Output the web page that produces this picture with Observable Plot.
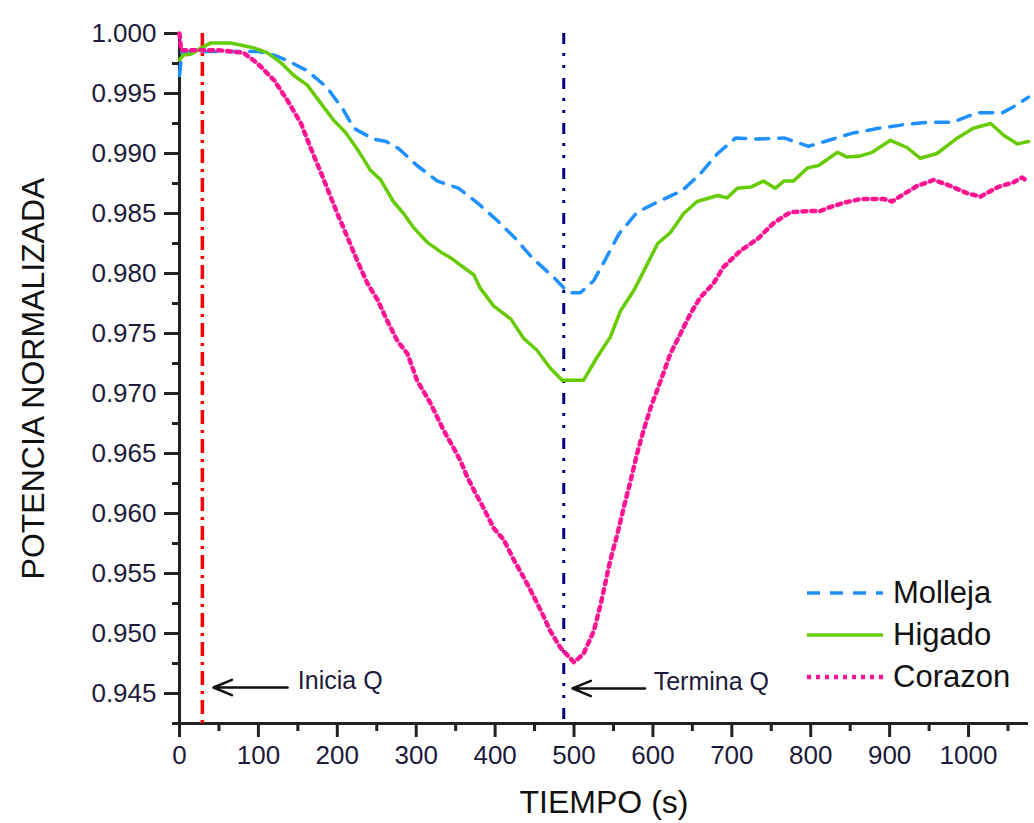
<!DOCTYPE html>
<html>
<head>
<meta charset="utf-8">
<script src="https://cdn.jsdelivr.net/npm/d3@7"></script>
<script src="https://cdn.jsdelivr.net/npm/@observablehq/plot@0.6"></script>
<style>
  html, body { margin: 0; padding: 0; background: #fff; }
  #wrap { position: relative; width: 1034px; height: 823px; font-family: "Liberation Sans", Arial, sans-serif; }
  #legend { position: absolute; left: 805px; top: 572px; }
  .row { display: flex; align-items: center; height: 42px; }
  .row span { font-size: 31px; color: #111; margin-left: 8px; }
</style>
</head>
<body>
<div id="wrap"><div id="chart"></div><div id="legend"></div></div>
<script>
// ---- data ----
const seriesNames = ["Molleja", "Higado", "Corazon"];
const seriesColors = ["#1e90ff", "#66cc00", "#ff1493"];

const mollejaT = [0,3,50,100,120,138,162,187,208,221,246,262,278,301,327,354,379,403,426,447,474,487,495,508,525,540,557,580,607,637,660,682,705,733,766,797,823,853,886,918,949,980,1011,1043,1060,1076];
const mollejaV = [0.9965,0.9985,0.9985,0.9985,0.9982,0.9977,0.9969,0.9955,0.9936,0.9921,0.9912,0.9910,0.9904,0.9890,0.9877,0.9871,0.9858,0.9844,0.9829,0.9813,0.9797,0.9788,0.9784,0.9784,0.9794,0.9812,0.9833,0.9851,0.9860,0.9869,0.9883,0.9900,0.9913,0.9912,0.9913,0.9906,0.9911,0.9917,0.9921,0.9924,0.9926,0.9926,0.9934,0.9934,0.9940,0.9947];

const higadoT = [0,5,15,25,39,65,80,94,111,128,145,162,179,195,210,226,242,255,271,284,297,314,331,346,358,373,381,398,420,436,453,470,485,512,529,546,559,576,593,606,622,639,656,682,694,707,724,740,755,766,778,796,810,834,846,863,878,901,922,939,960,986,1006,1028,1045,1062,1076];
const higadoV = [0.9978,0.9982,0.9983,0.9987,0.9992,0.9992,0.9990,0.9988,0.9984,0.9976,0.9965,0.9957,0.9942,0.9928,0.9918,0.9903,0.9886,0.9878,0.9860,0.9850,0.9838,0.9826,0.9818,0.9812,0.9806,0.9799,0.9788,0.9773,0.9762,0.9746,0.9736,0.9721,0.9711,0.9711,0.9730,0.9747,0.9769,0.9786,0.9808,0.9825,0.9834,0.9850,0.9860,0.9865,0.9863,0.9871,0.9872,0.9877,0.9871,0.9877,0.9877,0.9888,0.9890,0.9901,0.9897,0.9898,0.9901,0.9911,0.9905,0.9896,0.9900,0.9913,0.9921,0.9925,0.9915,0.9908,0.9910];

const corazonT = [0,2,50,81,99,120,137,154,166,183,200,213,225,238,251,263,276,289,301,318,335,347,356,365,375,385,398,411,424,436,445,458,470,483,500,512,525,534,546,555,563,572,580,588,597,610,622,635,648,660,677,689,711,733,753,774,796,812,823,842,863,893,903,920,935,956,977,998,1015,1037,1057,1068,1076];
const corazonV = [1.0000,0.9986,0.9986,0.9984,0.9975,0.9961,0.9944,0.9925,0.9905,0.9878,0.9850,0.9830,0.9811,0.9792,0.9778,0.9761,0.9744,0.9733,0.9711,0.9692,0.9669,0.9655,0.9644,0.9630,0.9617,0.9605,0.9588,0.9578,0.9561,0.9547,0.9536,0.9519,0.9502,0.9488,0.9476,0.9483,0.9502,0.9525,0.9561,0.9583,0.9605,0.9628,0.9650,0.9669,0.9688,0.9711,0.9733,0.9750,0.9767,0.9780,0.9792,0.9805,0.9819,0.9829,0.9842,0.9851,0.9852,0.9852,0.9855,0.9859,0.9862,0.9862,0.9860,0.9867,0.9873,0.9878,0.9873,0.9867,0.9864,0.9872,0.9876,0.9880,0.9876];

const markerTimes = [29, 487];          // Inicia Q, Termina Q
const markerLabels = ["Inicia Q", "Termina Q"];
const arrowFrom = [137, 590];
const arrowTo = [43, 498];
const arrowLevel = [0.9455, 0.94542];
const labelTime = [150, 601];
const labelLevel = [0.94608, 0.94592];

const xTicks = [0,100,200,300,400,500,600,700,800,900,1000];
const xMinor = [50,150,250,350,450,550,650,750,850,950,1050];
const yTicks = [0.945,0.950,0.955,0.960,0.965,0.970,0.975,0.980,0.985,0.990,0.995,1.000];
const yMinor = [0.9425,0.9475,0.9525,0.9575,0.9625,0.9675,0.9725,0.9775,0.9825,0.9875,0.9925,0.9975];

const xTitle = "TIEMPO (s)";
const yTitle = "POTENCIA NORMALIZADA";

// ---- build ----
const toRows = (T, V) => T.map((t, i) => ({t, v: V[i]}));
const molleja = toRows(mollejaT, mollejaV);
const higado = toRows(higadoT, higadoV);
const corazon = toRows(corazonT, corazonV);
const annots = markerLabels.map((l, i) => ({
  label: l, x1: arrowFrom[i], x2: arrowTo[i], y: arrowLevel[i], tx: labelTime[i], ty: labelLevel[i]
}));

const font = "'Liberation Sans', Arial, sans-serif";
const textColor = "#1c1a3a";

const chart = Plot.plot({
  width: 1034,
  height: 823,
  marginLeft: 179,
  marginRight: 6,
  marginTop: 33,
  marginBottom: 100,
  style: {fontFamily: font, background: "white", color: "#222"},
  x: {domain: [0, 1076]},
  y: {domain: [0.9425, 1.0]},
  marks: [
    Plot.axisX({ticks: xTicks, tickSize: 14, tickPadding: 8, fontSize: 26, strokeWidth: 3, fill: textColor, tickFormat: d3.format("d"), label: null}),
    Plot.axisX({ticks: xMinor, tickSize: 8, tickFormat: () => "", strokeWidth: 3, label: null}),
    Plot.axisY({ticks: yTicks, tickSize: 15, tickPadding: 8, fontSize: 26, strokeWidth: 3, fill: textColor, tickFormat: d3.format(".3f"), label: null}),
    Plot.axisY({ticks: yMinor, tickSize: 7, tickFormat: () => "", strokeWidth: 3, label: null}),
    Plot.ruleY([0.9425], {stroke: "#222", strokeWidth: 3}),
    Plot.ruleX([0], {stroke: "#222", strokeWidth: 3}),
    Plot.ruleX([markerTimes[0]], {stroke: "#ff0000", strokeWidth: 3.5, strokeDasharray: "14,6,3,6"}),
    Plot.ruleX([markerTimes[1]], {stroke: "#000080", strokeWidth: 3, strokeDasharray: "11,9,3,9,3,10"}),
    Plot.line(molleja, {x: "t", y: "v", stroke: seriesColors[0], strokeWidth: 3.5, strokeDasharray: "13,10"}),
    Plot.line(higado, {x: "t", y: "v", stroke: seriesColors[1], strokeWidth: 3.5}),
    Plot.line(corazon, {x: "t", y: "v", stroke: seriesColors[2], strokeWidth: 4.5, strokeDasharray: "4,5"}),
    Plot.arrow(annots, {x1: "x1", x2: "x2", y1: "y", y2: "y", stroke: "#111", strokeWidth: 2.5, headLength: 12, headAngle: 45}),
    Plot.text(annots, {x: "tx", y: "ty", text: "label", textAnchor: "start", fontSize: 25, fill: textColor}),
    Plot.text([xTitle], {frameAnchor: "bottom", dy: 89, fontSize: 32, fill: "#111"}),
    Plot.text([yTitle], {frameAnchor: "left", textAnchor: "middle", dx: -146, rotate: -90, fontSize: 32, fill: "#111"})
  ]
});
document.getElementById("chart").appendChild(chart);

// ---- legend ----
const dashes = ["13,10", null, "4,5"];
const widths = [3.5, 3.5, 4.5];
const legend = document.getElementById("legend");
seriesNames.forEach((name, i) => {
  const row = document.createElement("div");
  row.className = "row";
  row.innerHTML = `<svg width="80" height="10"><line x1="2" y1="5" x2="78" y2="5" stroke="${seriesColors[i]}" stroke-width="${widths[i]}" ${dashes[i] ? `stroke-dasharray="${dashes[i]}"` : ""}/></svg><span>${name}</span>`;
  legend.appendChild(row);
});
</script>
</body>
</html>
